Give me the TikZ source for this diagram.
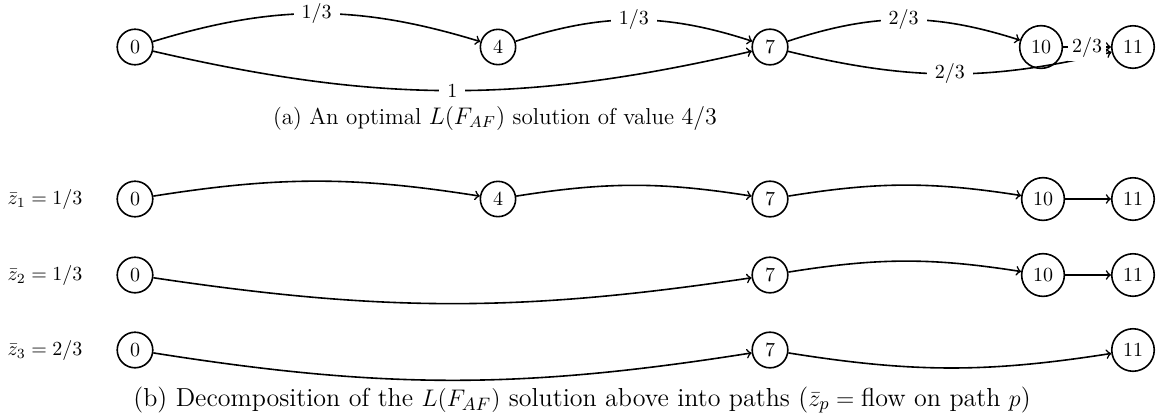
\documentclass[tikz,border=0pt]{standalone}
\usetikzlibrary{arrows}
\begin{document}
\begin{tikzpicture}[x=0.5pt,y=-0.5pt,
  vtx/.style={circle,draw,thick,inner sep=3.3pt,minimum size=15.5pt,font=\fontsize{10}{11}\selectfont},
  flow/.style={->,thick},
  lab/.style={fill=white,inner sep=4pt,font=\fontsize{10}{11}\selectfont},
  zlab/.style={font=\fontsize{10}{11}\selectfont},
  captext/.style={anchor=base,font=\fontsize{11.5}{13}\selectfont},
  captextb/.style={anchor=base,font=\fontsize{13}{14}\selectfont}]
\useasboundingbox (0,0) rectangle (1167,419);
% (a)
\node[vtx] (a0) at (135,47) {0};
\node[vtx] (a4) at (498,47) {4};
\node[vtx] (a7) at (770,47) {7};
\node[vtx] (a10) at (1041,47) {10};
\node[vtx] (a11) at (1133,47) {11};
\draw[flow] (a0) to[bend left=17] node[lab] {$1/3$} (a4);
\draw[flow] (a4) to[bend left=18] node[lab] {$1/3$} (a7);
\draw[flow] (a0) to[bend right=13] node[lab] {$1$} (a7);
\draw[flow] (a7) to[bend left=18] node[lab] {$2/3$} (a10);
\draw[flow] (a7) to[bend right=13.5] node[lab] {$2/3$} (a11);
\draw[flow] (a10) -- node[lab,inner sep=2pt] {$2/3$} (a11);
\node[captext] (capa) at (495,124) {(a) An optimal $L(F_{AF})$ solution of value $4/3$};
% (b) row 1
\node[zlab] (z1) at (45,199) {$\bar z_1 = 1/3$};
\node[vtx] (b0) at (135,199) {0};
\node[vtx] (b4) at (498,199) {4};
\node[vtx] (b7) at (770,199) {7};
\node[vtx] (b10) at (1043,199) {10};
\node[vtx] (b11) at (1133,199) {11};
\draw[flow] (b0) to[bend left=9] (b4);
\draw[flow] (b4) to[bend left=9] (b7);
\draw[flow] (b7) to[bend left=9] (b10);
\draw[flow] (b10) -- (b11);
% row 2
\node[zlab] (z2) at (45,275) {$\bar z_2 = 1/3$};
\node[vtx] (c0) at (135,275) {0};
\node[vtx] (c7) at (770,275) {7};
\node[vtx] (c10) at (1043,275) {10};
\node[vtx] (c11) at (1133,275) {11};
\draw[flow] (c0) to[bend right=8.5] (c7);
\draw[flow] (c7) to[bend left=9] (c10);
\draw[flow] (c10) -- (c11);
% row 3
\node[zlab] (z3) at (45,350) {$\bar z_3 = 2/3$};
\node[vtx] (d0) at (135,350) {0};
\node[vtx] (d7) at (770,350) {7};
\node[vtx] (d11) at (1133,350) {11};
\draw[flow] (d0) to[bend right=9] (d7);
\draw[flow] (d7) to[bend right=9] (d11);
\node[captextb] (capb) at (582,406) {(b) Decomposition of the $L(F_{AF})$ solution above into paths ($\bar z_p = \mbox{flow on path } p$)};
\end{tikzpicture}
\end{document}
